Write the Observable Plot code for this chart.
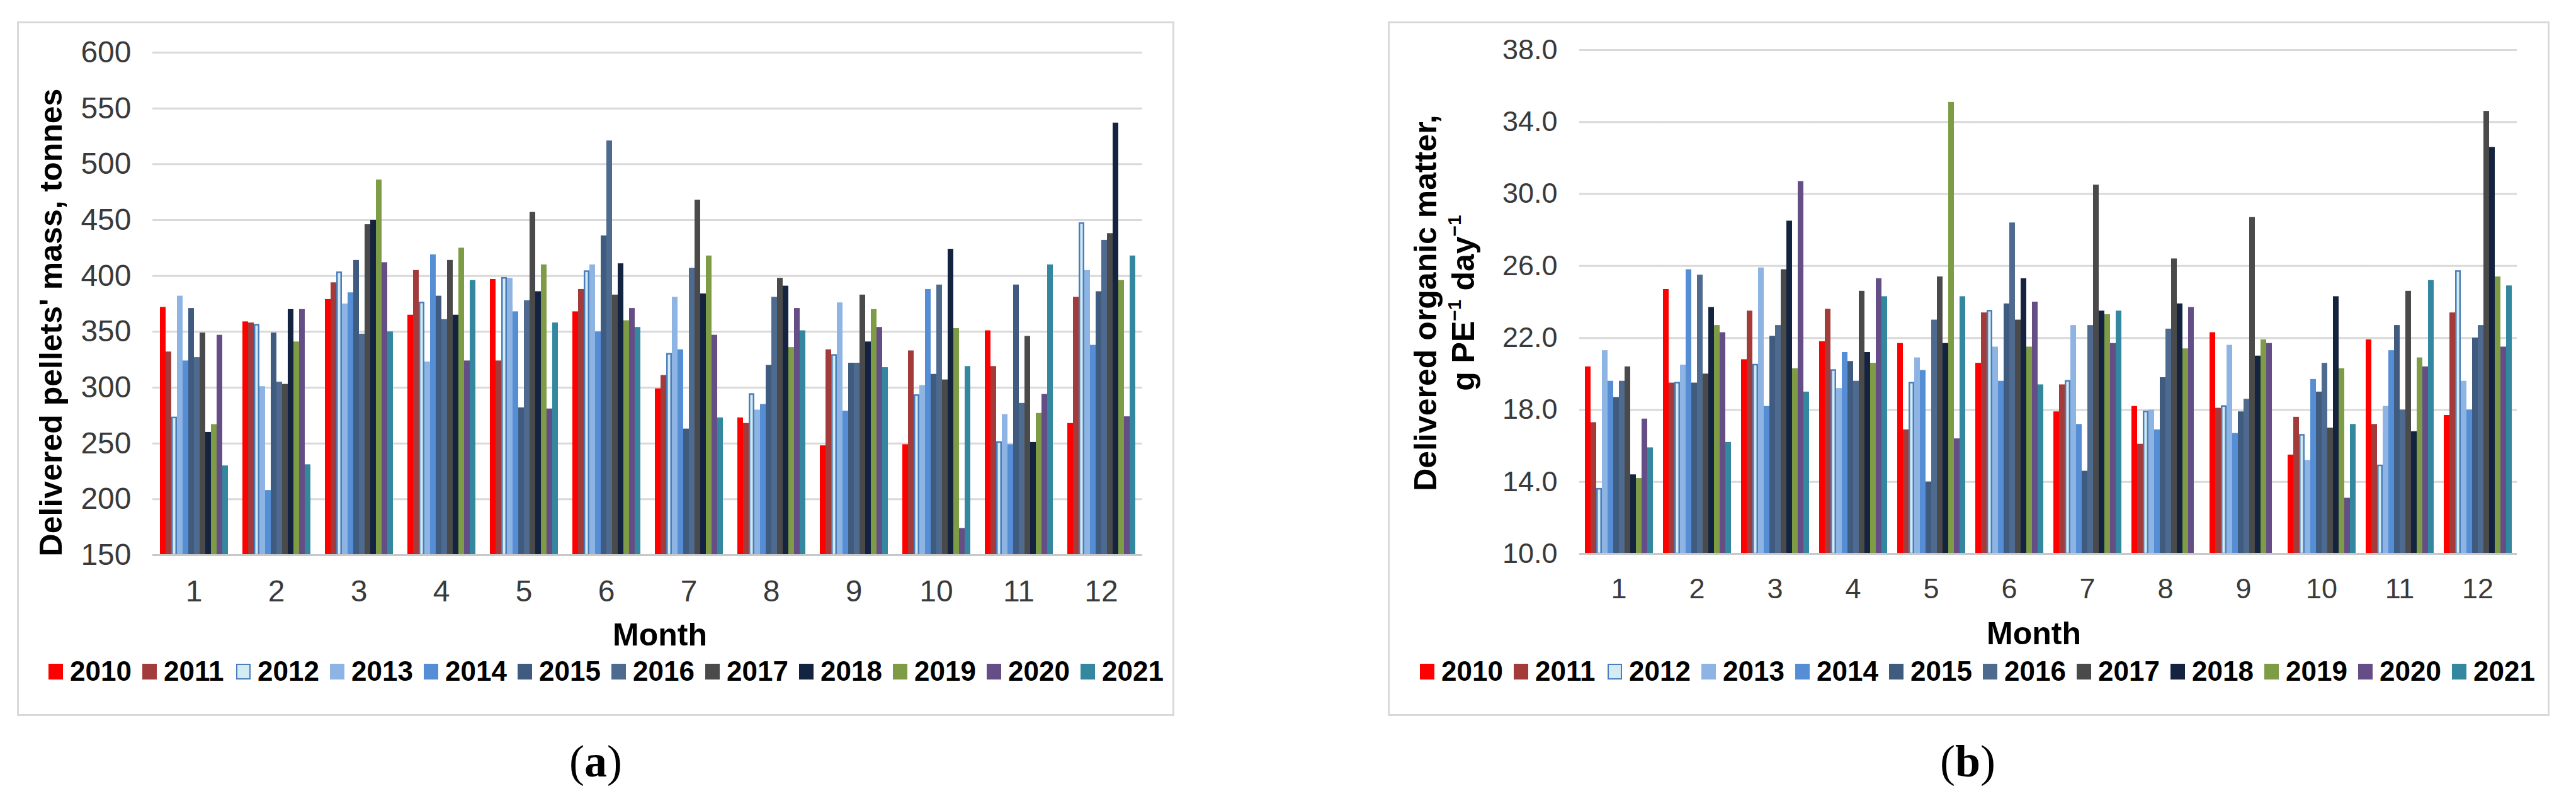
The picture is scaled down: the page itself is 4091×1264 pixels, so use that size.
<!DOCTYPE html>
<html>
<head>
<meta charset="utf-8">
<script src="https://cdn.jsdelivr.net/npm/d3@7"></script>
<script src="https://cdn.jsdelivr.net/npm/@observablehq/plot@0.6"></script>
<style>
html, body { margin: 0; padding: 0; background: #fff; }
body { width: 4091px; height: 1264px; position: relative; overflow: hidden; font-family: "Liberation Sans", Arial, sans-serif; }
.frame { position: absolute; border: 3px solid #D9D9D9; box-sizing: border-box; }
.plotbox { position: absolute; }
.plotbox svg { max-width: none; display: block; }
.ytitle { position: absolute; font-weight: bold; font-size: 50px; color: #000; white-space: nowrap; line-height: 60px; text-align: center; transform: translate(-50%, -50%) rotate(-90deg); }
.xtitle { position: absolute; font-weight: bold; font-size: 50px; color: #000; line-height: 1; transform: translate(-50%, -50%); }
.legend { position: absolute; display: flex; align-items: center; height: 50px; transform: translateY(-50%); }
.item { display: flex; align-items: center; width: 149px; flex: none; }
.sw { width: 23px; height: 25px; margin-right: 11px; box-sizing: border-box; flex: none; }
.lt { font-weight: bold; font-size: 44px; color: #000; line-height: 1; }
.tag { position: absolute; font-family: "Liberation Serif", "Times New Roman", serif; font-size: 72px; color: #000; line-height: 1; transform: translate(-50%, -50%); }
sup { font-size: 0.6em; vertical-align: 0.7em; line-height: 0; }
</style>
</head>
<body>
<div id="root"></div>
<script>
// ---------- data ----------
const months = [1, 2, 3, 4, 5, 6, 7, 8, 9, 10, 11, 12];
const years = [2010, 2011, 2012, 2013, 2014, 2015, 2016, 2017, 2018, 2019, 2020, 2021];
const colors = ["#FF0000", "#A33B3A", "#D3ECF4", "#8EB4E3", "#558ED5", "#3F5B80",
                "#4E6B8F", "#4A4A4A", "#14233F", "#7E9B46", "#654E86", "#33889F"];
const outlinedYear = 2012;
const outlineColor = "#4A7EBB";

// (a) Delivered pellets' mass, tonnes — one row per year, values for months 1..12
const massValues = [
  [372, 359, 379, 365, 397, 368, 299, 273, 248, 249, 351, 268], // 2010
  [332, 358, 394, 405, 324, 388, 311, 268, 334, 333, 319, 381], // 2011
  [273, 356, 403, 376, 398, 404, 330, 294, 329, 293, 251, 447], // 2012
  [382, 301, 375, 323, 398, 410, 381, 280, 376, 302, 276, 405], // 2013
  [324, 208, 385, 419, 368, 350, 334, 285, 279, 388, 249, 338], // 2014
  [371, 349, 414, 382, 282, 436, 263, 320, 322, 312, 392, 386], // 2015
  [327, 305, 348, 361, 378, 521, 407, 381, 322, 392, 286, 432], // 2016
  [349, 303, 446, 414, 457, 383, 468, 398, 383, 307, 346, 438], // 2017
  [260, 370, 450, 365, 386, 411, 384, 391, 341, 424, 251, 537], // 2018
  [267, 341, 486, 425, 410, 360, 418, 336, 370, 353, 277, 396], // 2019
  [347, 370, 412, 324, 281, 371, 347, 371, 354, 174, 294, 274], // 2020
  [230, 231, 350, 396, 358, 354, 273, 351, 318, 319, 410, 418]  // 2021
];
const massTicks = [150, 200, 250, 300, 350, 400, 450, 500, 550, 600];

// (b) Delivered organic matter, g PE-1 day-1
const organicValues = [
  [20.4, 24.7, 20.8, 21.8, 21.7, 20.6, 17.9, 18.2, 22.3, 15.5, 21.9, 17.7], // 2010
  [17.3, 19.5, 23.5, 23.6, 16.9, 23.4, 19.4, 16.1, 18.1, 17.6, 17.2, 23.4], // 2011
  [13.6, 19.5, 20.5, 20.2, 19.5, 23.5, 19.6, 17.9, 18.2, 16.6, 14.9, 25.7], // 2012
  [21.3, 20.5, 25.9, 19.2, 20.9, 21.5, 22.7, 18.0, 21.6, 15.2, 18.2, 19.6], // 2013
  [19.6, 25.8, 18.2, 21.2, 20.2, 19.6, 17.2, 16.9, 16.7, 19.7, 21.3, 18.0], // 2014
  [18.7, 19.5, 22.1, 20.7, 14.0, 23.9, 14.6, 19.8, 17.9, 19.0, 22.7, 22.0], // 2015
  [19.6, 25.5, 22.7, 19.6, 23.0, 28.4, 22.7, 22.5, 18.6, 20.6, 18.0, 22.7], // 2016
  [20.4, 20.0, 25.8, 24.6, 25.4, 23.0, 30.5, 26.4, 28.7, 17.0, 24.6, 34.6], // 2017
  [14.4, 23.7, 28.5, 21.2, 21.7, 25.3, 23.5, 23.9, 21.0, 24.3, 16.8, 32.6], // 2018
  [14.2, 22.7, 20.3, 20.6, 35.1, 21.5, 23.3, 21.4, 21.9, 20.3, 20.9, 25.4], // 2019
  [17.5, 22.3, 30.7, 25.3, 16.4, 24.0, 21.7, 23.7, 21.7, 13.1, 20.4, 21.5], // 2020
  [15.9, 16.2, 19.0, 24.3, 24.3, 19.4, 23.5, null, null, 17.2, 25.2, 24.9]  // 2021
];
const organicTicks = [10, 14, 18, 22, 26, 30, 34, 38];

// ---------- helpers ----------
function toRows(values) {
  const out = [];
  years.forEach((yr, i) => months.forEach((m, j) => {
    const v = values[i][j];
    if (v != null) out.push({year: yr, month: m, value: v});
  }));
  return out;
}

function chart({data, ticks, tickFormat, width, height, marginLeft, marginRight, marginTop, marginBottom, fontSize, yPad, xPad}) {
  const base = ticks[0];
  return Plot.plot({
    width, height, marginLeft, marginRight, marginTop, marginBottom,
    style: {fontFamily: "'Liberation Sans', Arial, sans-serif", fontSize: fontSize + "px", color: "#3a3a3a", background: "transparent", maxWidth: "none", overflow: "visible"},
    facet: {data, x: "month"},
    fx: {domain: months, paddingInner: 0.12, paddingOuter: 0.06, tickSize: 0, tickPadding: xPad, label: null},
    x: {domain: years, padding: 0, axis: null},
    y: {domain: [ticks[0], ticks[ticks.length - 1]], ticks, tickFormat, tickSize: 0, tickPadding: yPad, label: null},
    color: {domain: years, range: colors},
    marks: [
      Plot.ruleY(ticks.slice(1), {stroke: "#D9D9D9", strokeWidth: 3, insetLeft: -8, insetRight: -8}),
      Plot.barY(data, {x: "year", y1: base, y2: "value", fill: "year"}),
      Plot.barY(data, {filter: d => d.year === outlinedYear, x: "year", y1: base, y2: "value", fill: "year",
                       stroke: outlineColor, strokeWidth: 2.5, insetLeft: 1.25, insetRight: 1.25}),
      Plot.ruleY([base], {stroke: "#C8C8C8", strokeWidth: 3, insetLeft: -8, insetRight: -8})
    ]
  });
}

function legend(left, top) {
  const div = document.createElement("div");
  div.className = "legend";
  div.style.left = left + "px";
  div.style.top = top + "px";
  years.forEach((yr, i) => {
    const it = document.createElement("div");
    it.className = "item";
    const sw = document.createElement("div");
    sw.className = "sw";
    sw.style.background = colors[i];
    if (yr === outlinedYear) sw.style.border = "2.5px solid " + outlineColor;
    const t = document.createElement("span");
    t.className = "lt";
    t.textContent = String(yr);
    it.appendChild(sw); it.appendChild(t);
    div.appendChild(it);
  });
  return div;
}

function place(el, left, top) {
  const box = document.createElement("div");
  box.className = "plotbox";
  box.style.left = left + "px";
  box.style.top = top + "px";
  box.appendChild(el);
  return box;
}

function addDiv(cls, html, left, top) {
  const d = document.createElement("div");
  d.className = cls;
  d.innerHTML = html;
  d.style.left = left + "px";
  d.style.top = top + "px";
  document.body.appendChild(d);
  return d;
}

// ---------- frames ----------
const fa = addDiv("frame", "", 27, 34); fa.style.width = "1838px"; fa.style.height = "1103px";
const fb = addDiv("frame", "", 2204, 34); fb.style.width = "1845px"; fb.style.height = "1103px";

// ---------- panel (a) ----------
const plotA = chart({
  data: toRows(massValues), ticks: massTicks, tickFormat: d => String(d),
  width: 1838, height: 1000, marginLeft: 213, marginRight: 48, marginTop: 49, marginBottom: 153,
  fontSize: 48, yPad: 42, xPad: 39
});
document.body.appendChild(place(plotA, 27, 34));
addDiv("ytitle", "Delivered pellets' mass, tonnes", 81, 512);
addDiv("xtitle", "Month", 1048, 1008);
document.body.appendChild(legend(77, 1066));
addDiv("tag", "(<b>a</b>)", 946, 1209);

// ---------- panel (b) ----------
const plotB = chart({
  data: toRows(organicValues), ticks: organicTicks, tickFormat: d3.format(".1f"),
  width: 1845, height: 1000, marginLeft: 301, marginRight: 48, marginTop: 45, marginBottom: 155,
  fontSize: 45, yPad: 43, xPad: 39
});
document.body.appendChild(place(plotB, 2204, 34));
addDiv("ytitle", "Delivered organic matter,<br>g PE<sup>\u22121</sup> day<sup>\u22121</sup>", 2294, 481);
addDiv("xtitle", "Month", 3230, 1006);
document.body.appendChild(legend(2255, 1066));
addDiv("tag", "(<b>b</b>)", 3125, 1209);
</script>
</body>
</html>
